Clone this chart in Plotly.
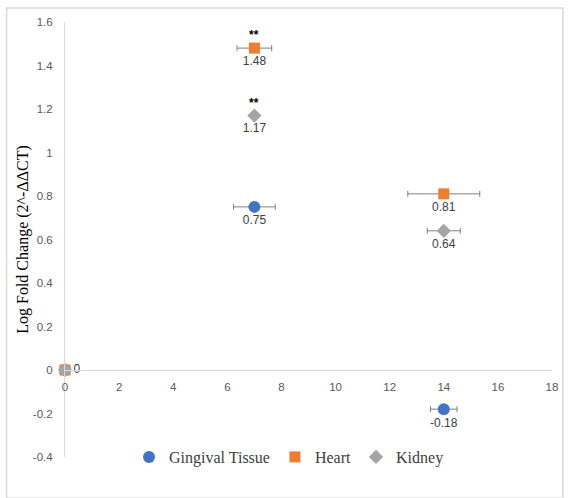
import plotly.graph_objects as go

# ---- data ----
x_days = [0, 7, 14]
series_names = ["Gingival Tissue", "Heart", "Kidney"]
gingival = [0, 0.75, -0.18]
heart = [0, 1.48, 0.81]
kidney = [0, 1.17, 0.64]
gingival_err = [0, 0.77, 0.49]
heart_err = [0, 0.64, 1.33]
kidney_err = [0, 0.0, 0.61]
gingival_labels = ["0", "0.75", "-0.18"]
heart_labels = ["", "1.48", "0.81"]
kidney_labels = ["", "1.17", "0.64"]
significance = [("Heart", 7, 1.48, "**"), ("Kidney", 7, 1.17, "**")]
y_tickvals = [-0.4, -0.2, 0, 0.2, 0.4, 0.6, 0.8, 1.0, 1.2, 1.4, 1.6]
y_ticktext = ["-0.4", "-0.2", "0", "0.2", "0.4", "0.6", "0.8", "1", "1.2", "1.4", "1.6"]
x_tickvals = [0, 2, 4, 6, 8, 10, 12, 14, 16, 18]

colors = {"Gingival Tissue": "#4472C4", "Heart": "#ED7D31", "Kidney": "#A5A5A5"}
symbols = {"Gingival Tissue": "circle", "Heart": "square", "Kidney": "diamond"}
sizes = {"Gingival Tissue": 12, "Heart": 11, "Kidney": 11}

fig = go.Figure()
vals = [gingival, heart, kidney]
errs = [gingival_err, heart_err, kidney_err]
labels = [gingival_labels, heart_labels, kidney_labels]
for name, y, e, t in zip(series_names, vals, errs, labels):
    pos = ["middle right"] + ["bottom center"] * (len(y) - 1)
    fig.add_trace(go.Scatter(
        x=x_days, y=y, name=name, mode="markers+text",
        text=t, textposition=pos,
        textfont=dict(family="Liberation Sans", size=12, color="#404040"),
        marker=dict(color=colors[name], symbol=symbols[name], size=sizes[name], line=dict(width=0)),
        error_x=dict(type="data", array=e, visible=True, color="#808080", thickness=1, width=3),
        cliponaxis=False,
    ))

for name, x, y, s in significance:
    fig.add_annotation(x=x, y=y, text="<b>" + s + "</b>", showarrow=False, yshift=13,
                       font=dict(family="Liberation Sans", size=12, color="#000000"))

fig.add_shape(type="rect", xref="paper", yref="paper", x0=-0.12, x1=1.0224, y0=-0.095, y1=1.032,
              line=dict(color="#d9d9d9", width=1.5), fillcolor="rgba(0,0,0,0)", layer="below")

fig.update_layout(
    width=570, height=498,
    margin=dict(l=65, r=13, t=22, b=41),
    paper_bgcolor="white", plot_bgcolor="white",
    showlegend=True,
    legend=dict(orientation="h", x=0.46, xanchor="center", y=0.0, yanchor="middle",
                font=dict(family="Liberation Serif", size=16, color="#404040"),
                itemwidth=30, tracegroupgap=0, bgcolor="rgba(0,0,0,0)"),
    xaxis=dict(range=[0, 18], tickvals=x_tickvals, anchor="free", position=0.2,
               showgrid=False, zeroline=False, showline=True, linecolor="#d9d9d9", linewidth=1,
               ticks="", ticklabelstandoff=6,
               tickfont=dict(family="Liberation Sans", size=11.5, color="#595959")),
    yaxis=dict(range=[-0.4, 1.6], tickvals=y_tickvals, ticktext=y_ticktext, showgrid=False,
               zeroline=False, showline=True, linecolor="#d9d9d9", linewidth=1,
               ticks="", ticklabelstandoff=9, automargin=False,
               tickfont=dict(family="Liberation Sans", size=11.5, color="#595959"),
               title=dict(text="Log Fold Change (2^-ΔΔCT)", standoff=0,
                          font=dict(family="Liberation Serif", size=16, color="#000000"))),
)

fig.write_html("out.html", config={"displayModeBar": False},
               post_script="document.body.style.margin='0';document.body.style.overflow='hidden';")
